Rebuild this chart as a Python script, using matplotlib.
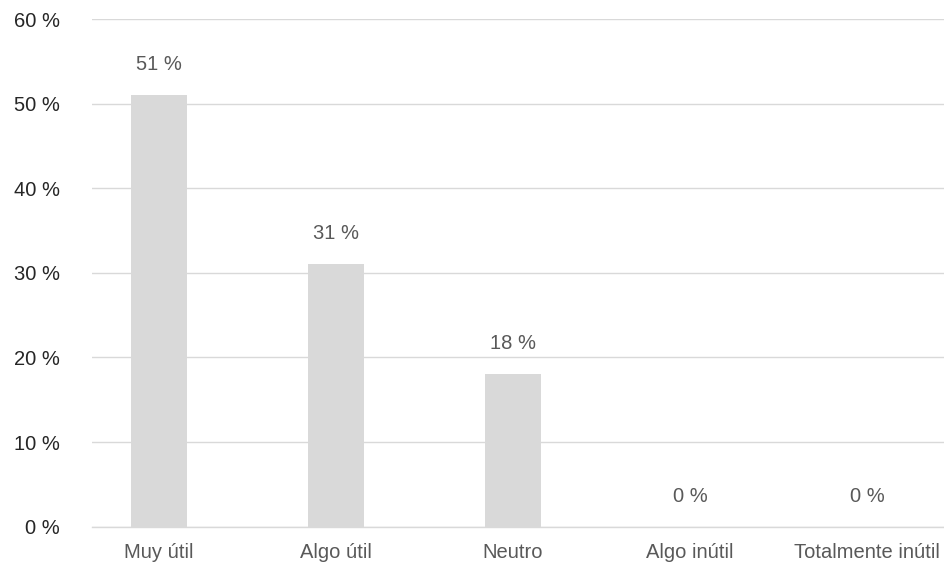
import numpy as np
import matplotlib.pyplot as plt

# survey answers and their share of respondents (%)
categories = ["Muy útil", "Algo útil", "Neutro", "Algo inútil", "Totalmente inútil"]
shares = [51, 31, 18, 0, 0]
y_ticks = [0, 10, 20, 30, 40, 50, 60]

plt.rcParams['font.family'] = ['Liberation Sans', 'DejaVu Sans']

fig = plt.figure(figsize=(9.44, 5.62), dpi=100)
ax = fig.add_axes([92 / 944, 35.3 / 562, 852 / 944, 507.7 / 562])

x = np.arange(len(categories))
ax.bar(x, shares, width=0.316, color="#d9d9d9", zorder=2)

for xi, v in zip(x, shares):
    ax.annotate(f"{v} %", (xi, v), xytext=(0, 22), textcoords="offset points",
                ha="center", va="center", fontsize=14.5, color="#595959")

ax.set_xlim(-0.3785, 4.435)
ax.set_ylim(0, 60)
ax.set_xticks(x)
ax.set_xticklabels(categories, fontsize=14.5, color="#595959")
ax.set_yticks(y_ticks)
ax.set_yticklabels([f"{t} %" for t in y_ticks], fontsize=14.5, color="#262626")
ax.tick_params(axis="both", length=0)
ax.tick_params(axis="x", pad=12)
ax.tick_params(axis="y", pad=23)

for s in ax.spines.values():
    s.set_visible(False)
ax.yaxis.grid(True, color="#d9d9d9", linewidth=1.0, zorder=0)
ax.axhline(0, color="#d9d9d9", linewidth=1.0, zorder=3, clip_on=False)
ax.set_axisbelow(True)

fig.savefig("out.png", dpi=100)
